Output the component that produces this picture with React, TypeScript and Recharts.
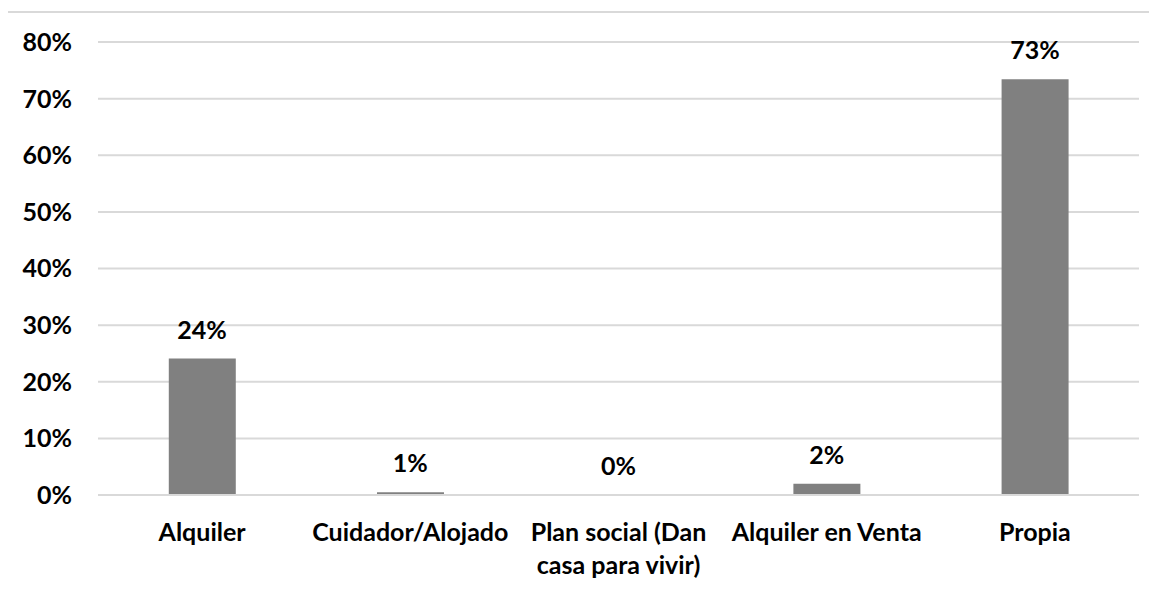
import { ComposedChart, Bar, Line, XAxis, YAxis, CartesianGrid, LabelList } from 'recharts';

const categorias = [
  'Alquiler',
  'Cuidador/Alojado',
  'Plan social (Dan casa para vivir)',
  'Alquiler en Venta',
  'Propia',
];

const valores = [0.241, 0.005, 0, 0.02, 0.734];

const ticksY = [0, 0.1, 0.2, 0.3, 0.4, 0.5, 0.6, 0.7, 0.8];

const data = categorias.map((categoria, i) => ({ categoria, valor: valores[i] }));

const FONT = 'Lato, "Open Sans", sans-serif';
const textStyle = { fontFamily: FONT, fontWeight: 700, fontSize: 25, fill: '#000000' };

const pct = (v: number) => `${Math.round(v * 100)}%`;

// word wrap using canvas text metrics
let ctx: CanvasRenderingContext2D | null = null;
function wrap(text: string, maxWidth: number): string[] {
  if (!ctx) ctx = document.createElement('canvas').getContext('2d');
  if (!ctx) return [text];
  ctx.font = `700 25px ${FONT}`;
  const lines: string[] = [];
  let current = '';
  for (const word of text.split(' ')) {
    const test = current ? `${current} ${word}` : word;
    if (current && ctx.measureText(test).width > maxWidth) {
      lines.push(current);
      current = word;
    } else {
      current = test;
    }
  }
  if (current) lines.push(current);
  return lines;
}

function CategoryTick(props: any) {
  const { x, y, payload } = props;
  const lines = wrap(String(payload.value), 200);
  return (
    <text x={x} y={y} textAnchor="middle" style={textStyle}>
      {lines.map((line, i) => (
        <tspan key={i} x={x} dy={i === 0 ? '0.71em' : 33}>
          {line}
        </tspan>
      ))}
    </text>
  );
}

export default function App() {
  return (
    <div style={{ position: 'relative', width: 1157, height: 591, margin: -8, overflow: 'hidden', background: '#fff' }}>
      <div
        style={{
          position: 'absolute',
          left: 6,
          top: 11,
          width: 1300,
          height: 800,
          border: '2px solid #d9d9d9',
        }}
      />
      <div style={{ position: 'absolute', left: 0, top: 0 }}>
        <ComposedChart
          width={1157}
          height={591}
          data={data}
          margin={{ top: 42, right: 18, bottom: 0, left: 0 }}
          barCategoryGap="34%"
        >
          <CartesianGrid vertical={false} stroke="#d9d9d9" strokeWidth={2} />
          <XAxis
            dataKey="categoria"
            interval={0}
            tickLine={false}
            axisLine={{ stroke: '#d9d9d9', strokeWidth: 2 }}
            tickSize={0}
            tickMargin={28}
            height={96}
            tick={<CategoryTick />}
          />
          <YAxis
            domain={[0, 0.8]}
            ticks={ticksY}
            tickFormatter={pct}
            width={98}
            tickLine={false}
            axisLine={false}
            tickSize={0}
            tickMargin={26}
            tick={textStyle}
          />
          <Bar dataKey="valor" fill="#808080" isAnimationActive={false} />
          <Line
            dataKey="valor"
            stroke="none"
            dot={false}
            activeDot={false}
            isAnimationActive={false}
          >
            <LabelList
              dataKey="valor"
              position="top"
              offset={20}
              formatter={(v: any) => pct(Number(v))}
              style={textStyle}
            />
          </Line>
        </ComposedChart>
      </div>
    </div>
  );
}
